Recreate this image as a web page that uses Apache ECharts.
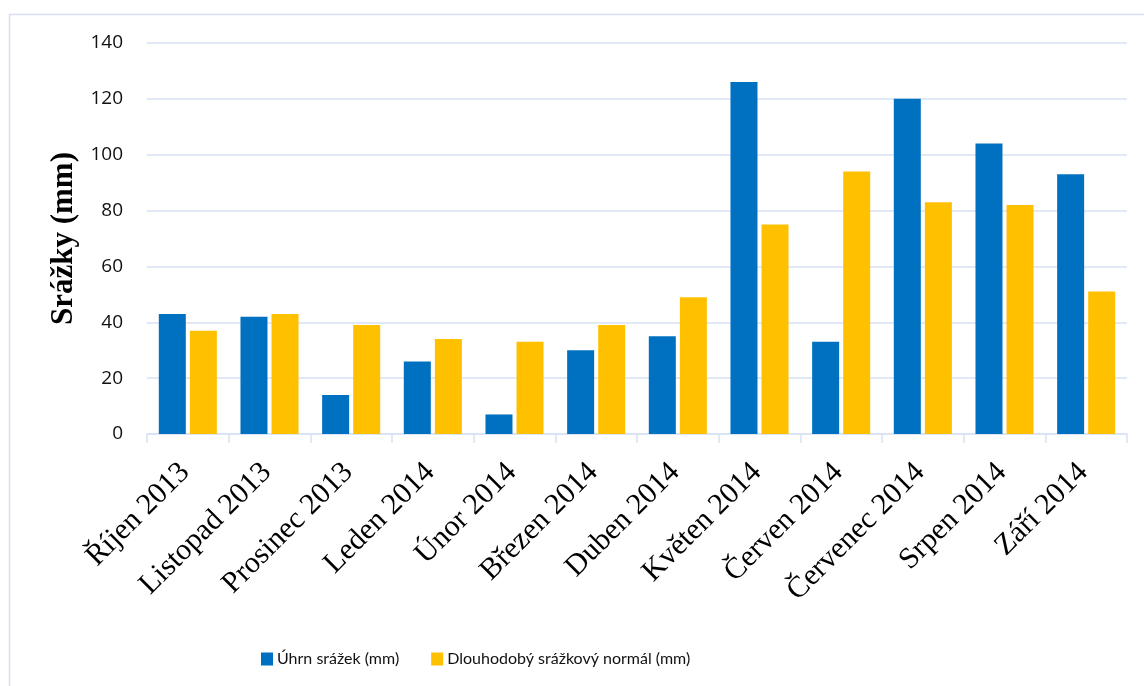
<!DOCTYPE html>
<html>
<head>
<meta charset="utf-8">
<script src="https://cdn.jsdelivr.net/npm/echarts@6/dist/echarts.min.js"></script>
<style>
  html, body { margin: 0; padding: 0; background: #ffffff; }
  #chart { width: 1144px; height: 686px; }
</style>
</head>
<body>
<div id="chart"></div>
<script>
// Měsíce hydrologického roku 2013/2014
const months = [
  'Říjen 2013', 'Listopad 2013', 'Prosinec 2013', 'Leden 2014', 'Únor 2014', 'Březen 2014',
  'Duben 2014', 'Květen 2014', 'Červen 2014', 'Červenec 2014', 'Srpen 2014', 'Září 2014'
];
// Měsíční úhrn srážek (mm)
const precipTotal = [43, 42, 14, 26, 7, 30, 35, 126, 33, 120, 104, 93];
// Dlouhodobý srážkový normál (mm)
const precipNormal = [37, 43, 39, 34, 33, 39, 49, 75, 94, 83, 82, 51];

const seriesNames = ['Úhrn srážek (mm)', 'Dlouhodobý srážkový normál (mm)'];
const axisTitle = 'Srážky (mm)';

const gridColor = '#d9e2f3';

const chart = echarts.init(document.getElementById('chart'), null, { renderer: 'canvas' });

chart.setOption({
  animation: false,
  backgroundColor: '#ffffff',
  graphic: [{
    type: 'rect',
    shape: { x: 9.5, y: 14.5, width: 1150, height: 700 },
    style: { fill: 'none', stroke: '#d6e0f1', lineWidth: 1.5 },
    silent: true,
    z: -1
  }],
  grid: { left: 147, right: 17, top: 43, bottom: 252, containLabel: false },
  legend: {
    data: seriesNames,
    left: 256,
    top: 646,
    itemWidth: 12,
    itemHeight: 13,
    itemGap: 32,
    icon: 'rect',
    textStyle: { fontFamily: 'Lato', fontSize: 16, color: '#111111', padding: [0, 0, 0, -1] }
  },
  xAxis: {
    type: 'category',
    data: months,
    boundaryGap: true,
    axisLine: { show: true, lineStyle: { color: gridColor, width: 1.5 } },
    axisTick: { show: true, length: 9, alignWithLabel: false, lineStyle: { color: gridColor, width: 1.5 } },
    axisLabel: {
      rotate: 45,
      interval: 0,
      margin: 31,
      padding: [0, 4, 0, 0],
      fontFamily: 'Liberation Serif',
      fontSize: 30,
      color: '#000000'
    }
  },
  yAxis: {
    type: 'value',
    min: 0,
    max: 140,
    interval: 20,
    name: axisTitle,
    nameLocation: 'middle',
    nameGap: 68,
    nameRotate: 90,
    nameTextStyle: { fontFamily: 'Liberation Serif', fontWeight: 'bold', fontSize: 31, color: '#000000' },
    axisLine: { show: false },
    axisTick: { show: false },
    axisLabel: { margin: 24, fontFamily: 'Open Sans', fontSize: 19, color: '#111111' },
    splitLine: { show: true, lineStyle: { color: gridColor, width: 1.5 } }
  },
  series: [
    {
      name: seriesNames[0],
      type: 'bar',
      data: precipTotal,
      barWidth: 27,
      barGap: '15%',
      itemStyle: { color: '#0070c0' }
    },
    {
      name: seriesNames[1],
      type: 'bar',
      data: precipNormal,
      barWidth: 27,
      barGap: '15%',
      itemStyle: { color: '#ffc000' }
    }
  ]
});
</script>
</body>
</html>
